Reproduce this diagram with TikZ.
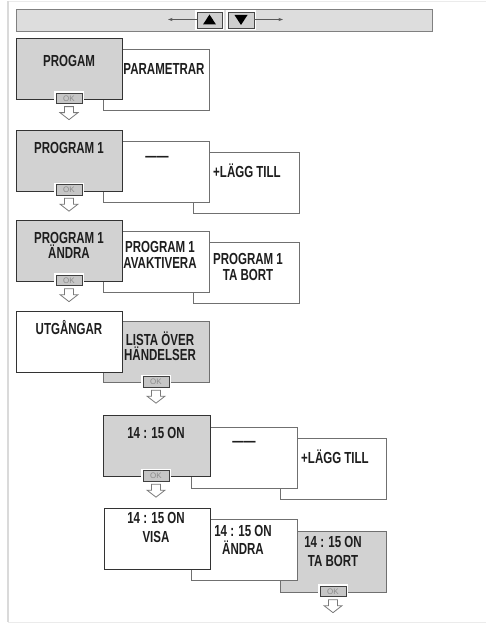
\documentclass[tikz,border=0pt]{standalone}
\usepackage{fontspec}
\setmainfont[FakeStretch=0.72]{Liberation Sans}
\newfontfamily\okfont{Liberation Sans}
\usetikzlibrary{arrows.meta}
\definecolor{boxgray}{HTML}{D2D2D2}
\definecolor{bargray}{HTML}{DDDDDD}
\definecolor{btngray}{HTML}{CFCFCF}
\definecolor{okgray}{HTML}{C6C6C6}
\definecolor{frontline}{HTML}{333333}
\definecolor{backline}{HTML}{707070}
\definecolor{textcol}{HTML}{1E1E1E}
\definecolor{framecol}{HTML}{DADADA}
\definecolor{framelight}{HTML}{EBEBEB}
\definecolor{arrowcol}{HTML}{7A7A7A}
\begin{document}
\begin{tikzpicture}[x=1pt,y=-1pt,
  front/.style={draw=frontline, line width=1.3pt, minimum width=106pt, minimum height=61pt, inner sep=0pt, anchor=north west},
  back/.style={draw=backline, line width=0.8pt, minimum width=106pt, minimum height=61pt, inner sep=0pt, anchor=north west},
  lbl/.style={font=\bfseries\fontsize{16}{#1}\selectfont, inner sep=0pt, align=center, text=textcol},
  lbl/.default=16,
  okbtn/.style={draw=black!75, fill=okgray, line width=0.8pt, minimum width=26pt, minimum height=10.5pt, inner sep=0pt,
    font=\okfont\fontsize{8}{8}\selectfont, text=black!45, preaction={draw=white, line width=4pt}},
  barbtn/.style={draw=frontline!90, fill=btngray, line width=0.8pt, minimum width=25pt, minimum height=16pt, inner sep=0pt,
    preaction={draw=white, line width=4pt}},
  bararrow/.style={draw=black!65, line width=0.6pt, -{Stealth[length=4.5pt,width=3pt]}},
  dnarrow/.pic={\draw[draw=arrowcol, fill=white, line width=0.8pt, line join=miter]
     (-4.5,0)--(4.5,0)--(4.5,6)--(9,6)--(0,13)--(-9,6)--(-4.5,6)--cycle;}
]
\useasboundingbox (0,0) rectangle (486,623);
% outer frame
\draw[framelight, line width=0.8pt] (8,1.2) -- (486,1.2);
\draw[framelight, line width=0.8pt] (8,622) -- (486,622);
\draw[framecol, line width=2pt] (7.8,0.8) -- (7.8,622);

% top bar
\node[draw=black!50, fill=bargray, line width=0.7pt, minimum width=416pt, minimum height=22pt, inner sep=0pt, anchor=north west] (bar) at (16,9) {};
\node[barbtn] (up) at (209.5,20) {};
\node[barbtn, minimum width=26pt] (down) at (241,20) {};
\fill[black] (up.center) ++(-6.5,4.5) -- ++(13,0) -- ++(-6.5,-10) -- cycle;
\fill[black] (down.center) ++(-6.5,-5) -- ++(13,0) -- ++(-6.5,10) -- cycle;
\coordinate (lend) at (168,19.5);
\coordinate (rend) at (283,19.5);
\draw[bararrow] (up.west |- lend) -- (lend);
\draw[bararrow] (down.east |- rend) -- (rend);

% row 1
\node[back, fill=white] (a2) at (103,49) {};
\node[front, fill=boxgray] (a1) at (16,38) {};
\node[lbl] (ta1) at (69,61) {PROGAM};
\node[lbl] (ta2) at (164,69) {PARAMETRAR};
\node[okbtn] (ok1) at (69,98.5) {OK};
\path (ok1.south) ++(0,2.5) pic {dnarrow};

% row 2
\node[back, fill=white] (b3) at (193,152) {};
\node[back, fill=white] (b2) at (103,141) {};
\node[front, fill=boxgray] (b1) at (16,130) {};
\node[lbl] (tb1) at (69,148) {PROGRAM 1};
\node[lbl] (tb2) at (157,159) {——};
\node[lbl] (tb3) at (247,171) {+LÄGG TILL};
\node[okbtn] (ok2) at (69,190) {OK};
\path (ok2.south) ++(0,2.5) pic {dnarrow};

% row 3
\node[back, fill=white] (c3) at (193,242) {};
\node[back, fill=white] (c2) at (103,231) {};
\node[front, fill=boxgray] (c1) at (16,220) {};
\node[lbl=15.5] (tc1) at (69,245.5) {PROGRAM 1\\ÄNDRA};
\node[lbl=16] (tc2) at (160,255) {PROGRAM 1\\AVAKTIVERA};
\node[lbl=16] (tc3) at (248,267) {PROGRAM 1\\TA BORT};
\node[okbtn] (ok3) at (69,280.5) {OK};
\path (ok3.south) ++(0,2.5) pic {dnarrow};

% row 4
\node[back, fill=boxgray] (d2) at (103,321) {};
\node[front, fill=white] (d1) at (16,311) {};
\node[lbl] (td1) at (69,328) {UTGÅNGAR};
\node[lbl=15] (td2) at (160,346.5) {LISTA ÖVER\\HÄNDELSER};
\node[okbtn] (ok4) at (156,382) {OK};
\path (ok4.south) ++(0,2.5) pic {dnarrow};

% row 5
\node[back, fill=white] (e3) at (280,438) {};
\node[back, fill=white] (e2) at (191,427) {};
\node[front, fill=boxgray, minimum width=107pt] (e1) at (103,415) {};
\node[lbl] (te1) at (156,433) {14 : 15 ON};
\node[lbl] (te2) at (244,444) {——};
\node[lbl] (te3) at (335,457) {+LÄGG TILL};
\node[okbtn] (ok5) at (156,476) {OK};
\path (ok5.south) ++(0,2.5) pic {dnarrow};

% row 6
\node[back, fill=boxgray] (f3) at (280,531) {};
\node[back, fill=white] (f2) at (191,519) {};
\node[front, fill=white] (f1) at (104,508) {};
\node[lbl=18.5] (tf1) at (156,527.5) {14 : 15 ON\\VISA};
\node[lbl=18] (tf2) at (243,540) {14 : 15 ON\\ÄNDRA};
\node[lbl=19] (tf3) at (333,551.5) {14 : 15 ON\\TA BORT};
\node[okbtn] (ok6) at (333,591.5) {OK};
\path (ok6.south) ++(0,2.5) pic {dnarrow};
\end{tikzpicture}
\end{document}
